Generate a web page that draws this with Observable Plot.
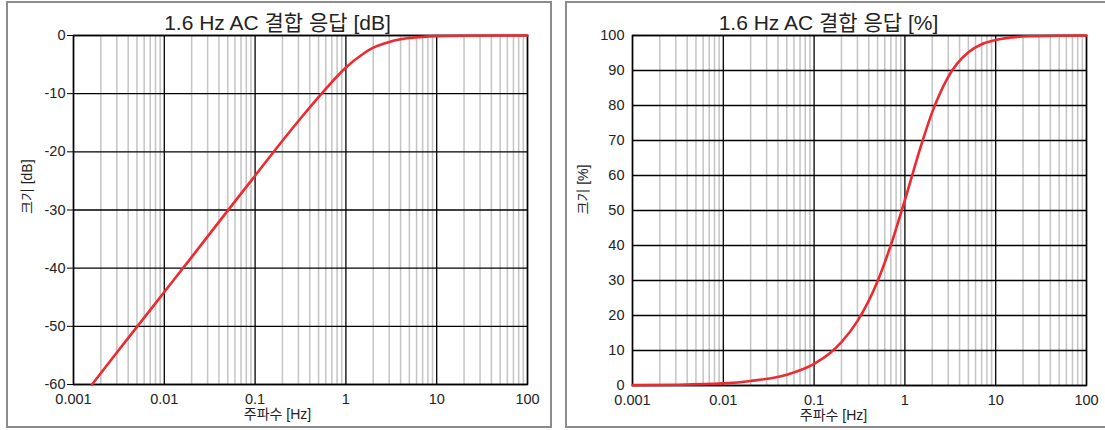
<!DOCTYPE html>
<html>
<head>
<meta charset="utf-8">
<script src="https://cdn.jsdelivr.net/npm/d3@7"></script>
<script src="https://cdn.jsdelivr.net/npm/@observablehq/plot@0.6"></script>
<style>
  html, body { margin: 0; padding: 0; background: #fff; }
  body { width: 1105px; height: 430px; position: relative; overflow: hidden; }
  .panel { position: absolute; top: 0; }
  .box { position: absolute; top: 1px; height: 427px; box-sizing: border-box; border: 2px solid #8c8c8c; pointer-events: none; }
</style>
</head>
<body>
<div id="left" class="panel" style="left:0px"></div>
<div id="right" class="panel" style="left:555px"></div>
<div class="box" style="left:6px; width:546px"></div>
<div class="box" style="left:565px; width:560px"></div>
<script>
// ---- data ----
const freqDb = [0.0016, 0.003, 0.005, 0.01, 0.02, 0.05, 0.1, 0.2, 0.3, 0.5, 0.7, 1, 1.5, 2, 3, 5, 7, 10, 20, 50, 100];
const dbValues = [-60, -54.5, -50.1, -44.1, -38.1, -30.1, -24.1, -18.1, -14.7, -10.6, -8.0, -5.5, -3.3, -2.1, -1.1, -0.44, -0.23, -0.11, -0.03, 0, 0];

const freqPct = [0.001, 0.003, 0.01, 0.02, 0.05, 0.1, 0.15, 0.2, 0.3, 0.5, 0.7, 1, 1.5, 2, 3, 5, 7, 10, 20, 50, 100];
const pctValues = [0.1, 0.2, 0.6, 1.3, 3.1, 6.2, 9.3, 12.4, 18.4, 29.8, 40.1, 53.0, 68.4, 78.1, 88.2, 95.2, 97.5, 98.7, 99.7, 99.95, 100];

const xTicks = [0.001, 0.01, 0.1, 1, 10, 100];
const xTickLabels = ["0.001", "0.01", "0.1", "1", "10", "100"];
const yTicksDb = [0, -10, -20, -30, -40, -50, -60];
const yTicksPct = [0, 10, 20, 30, 40, 50, 60, 70, 80, 90, 100];
const minorMultipliers = [2, 3, 4, 5, 6, 7, 8, 9];

const titleDb = "1.6 Hz AC 결합 응답 [dB]";
const titlePct = "1.6 Hz AC 결합 응답 [%]";
const xLabel = "주파수 [Hz]";
const yLabelDb = "크기 [dB]";
const yLabelPct = "크기 [%]";

// ---- derived ----
const minorX = xTicks.slice(0, -1).flatMap(d => minorMultipliers.map(m => d * m));
const fmtX = d => xTickLabels[xTicks.indexOf(d)];
const fmtY = d => String(d);
const FONT = '"Liberation Sans", Arial, "Noto Sans CJK KR", sans-serif';
const RED = "#ec2a30";

function panel({freq, vals, yDomain, yTicks, title, yLabel, mL, mR, mB, W, titleDx, xLabDx, yLabDx, yTickSize, yTickPad}) {
  const data = freq.map((f, i) => ({f, v: vals[i]}));
  return Plot.plot({
    width: W, height: 430,
    marginLeft: mL, marginRight: mR, marginTop: 35, marginBottom: mB,
    x: {type: "log", domain: [0.001, 100]},
    y: {domain: yDomain},
    style: {fontFamily: FONT, fontSize: "14px", color: "#222", background: "transparent"},
    marks: [
      Plot.ruleX(minorX, {stroke: "#c4c4c4", strokeWidth: 1.5}),
      Plot.ruleX(xTicks, {stroke: "#000", strokeWidth: 1.3}),
      Plot.ruleY(yTicks, {stroke: "#000", strokeWidth: 1.3}),
      Plot.frame({stroke: "#000", strokeWidth: 1.5}),
      Plot.line(data, {x: "f", y: "v", stroke: RED, strokeWidth: 2.6, curve: "monotone-x"}),
      Plot.axisX({ticks: xTicks, tickFormat: fmtX, tickSize: 0, tickPadding: 9, label: null, fontSize: 14.5}),
      Plot.axisY({ticks: yTicks, tickFormat: fmtY, tickSize: yTickSize, tickPadding: yTickPad, label: null, fontSize: 14.5, stroke: "#000"}),
      Plot.text([title], {frameAnchor: "top", dx: titleDx, dy: -20, fontSize: 21, fill: "#222"}),
      Plot.text([xLabel], {frameAnchor: "bottom", dx: xLabDx, dy: 34, fontSize: 14, fill: "#222"}),
      Plot.text([yLabel], {frameAnchor: "left", dx: yLabDx, dy: 4, rotate: -90, fontSize: 14, fill: "#222"})
    ]
  });
}

document.getElementById("left").append(panel({
  freq: freqDb, vals: dbValues, yDomain: [-60, 0], yTicks: yTicksDb,
  title: titleDb, yLabel: yLabelDb, W: 555, mL: 73, mR: 28, mB: 46,
  titleDx: -23, xLabDx: -23, yLabDx: -46, yTickSize: 6, yTickPad: 2
}));
document.getElementById("right").append(panel({
  freq: freqPct, vals: pctValues, yDomain: [0, 100], yTicks: yTicksPct,
  title: titlePct, yLabel: yLabelPct, W: 550, mL: 77, mR: 19, mB: 45,
  titleDx: -31, xLabDx: -26, yLabDx: -49, yTickSize: 0, yTickPad: 8
}));
</script>
</body>
</html>
